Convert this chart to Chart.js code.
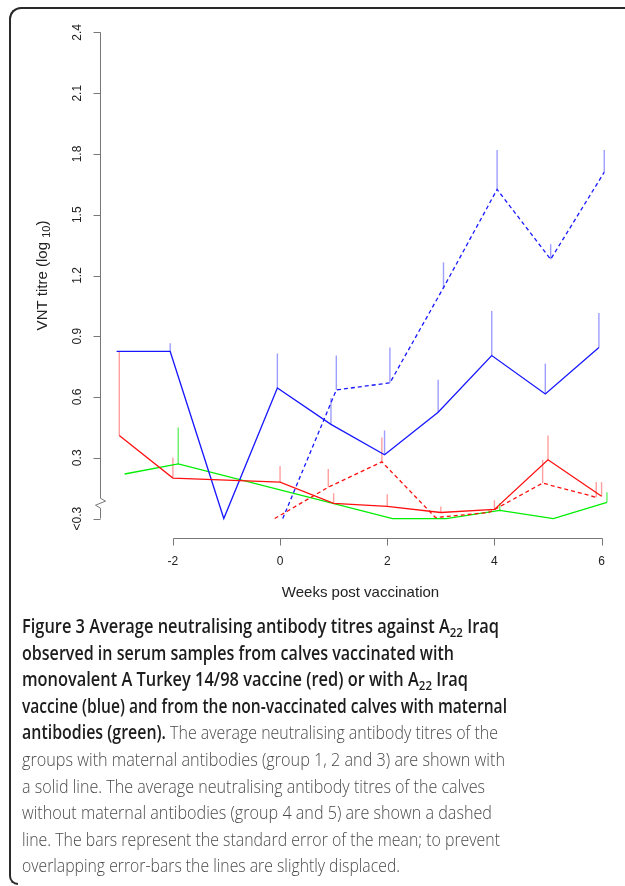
<!DOCTYPE html>
<html>
<head>
<meta charset="utf-8">
<script src="https://cdn.jsdelivr.net/npm/chart.js@4.4.1/dist/chart.umd.min.js"></script>
<style>
html,body{margin:0;padding:0;background:#fff;width:625px;height:886px;overflow:hidden;}
#c{position:absolute;left:0;top:0;}
#frame{position:absolute;left:9px;top:7px;width:660px;height:866px;border-left:2px solid #2a2a2a;border-top:2px solid #2a2a2a;border-top-left-radius:12px;box-sizing:border-box;}
#curl{position:absolute;left:9px;top:868px;width:9px;height:17px;border-left:2px solid #2a2a2a;border-bottom:2px solid #2a2a2a;border-bottom-left-radius:9px;box-sizing:border-box;}
#caption{position:absolute;left:22px;top:613px;font-family:'Open Sans','Noto Sans',sans-serif;font-size:19px;line-height:26.6px;}
.line{white-space:nowrap;display:block;height:26.6px;}
.line > span.in{display:inline-block;transform-origin:0 50%;}
.b{font-weight:600;color:#1c1c1c;}
.r{font-weight:300;color:#4a4a4a;}
sub{font-size:70%;line-height:0;vertical-align:-0.3em;}
</style>
</head>
<body>
<canvas id="c" width="625" height="610"></canvas>
<div id="frame"></div>
<div id="curl"></div>
<div id="caption">
<div class="line"><span class="in"><span class="b">Figure 3 Average neutralising antibody titres against A<sub>22</sub> Iraq</span></span></div>
<div class="line"><span class="in"><span class="b">observed in serum samples from calves vaccinated with</span></span></div>
<div class="line"><span class="in"><span class="b">monovalent A Turkey 14/98 vaccine (red) or with A<sub>22</sub> Iraq</span></span></div>
<div class="line"><span class="in"><span class="b">vaccine (blue) and from the non-vaccinated calves with maternal</span></span></div>
<div class="line"><span class="in"><span class="b">antibodies (green).</span><span class="r"> The average neutralising antibody titres of the</span></span></div>
<div class="line"><span class="in"><span class="r">groups with maternal antibodies (group 1, 2 and 3) are shown with</span></span></div>
<div class="line"><span class="in"><span class="r">a solid line. The average neutralising antibody titres of the calves</span></span></div>
<div class="line"><span class="in"><span class="r">without maternal antibodies (group 4 and 5) are shown a dashed</span></span></div>
<div class="line"><span class="in"><span class="r">line. The bars represent the standard error of the mean; to prevent</span></span></div>
<div class="line"><span class="in"><span class="r">overlapping error-bars the lines are slightly displaced.</span></span></div>
</div>
<script>
// ---- data ----
const weeksMaternal   = [-3, -2, 0, 1, 2, 3, 4, 5, 6];          // red solid
const weeksBlueSolid  = [-3, -2, -1, 0, 1, 2, 3, 4, 5, 6];      // blue solid
const weeksNoMaternal = [0, 1, 2, 3, 4, 5, 6];                  // dashed groups
const weeksGreen      = [-3, -2, 2, 3, 4, 5, 6];                // green

const redSolid     = [0.41, 0.20, 0.18, 0.075, 0.06, 0.03, 0.045, 0.29, 0.11];
const redSolidSE   = [0.415, 0.10, 0.08, 0.05, 0.06, 0.03, 0.045, 0.12, 0.07];

const blueSolid    = [0.825, 0.825, 0, 0.645, 0.465, 0.315, 0.525, 0.805, 0.615, 0.845];
const blueSolidSE  = [0, 0.04, 0, 0.17, 0.13, 0.12, 0.16, 0.22, 0.15, 0.17];

const redDashed    = [0, 0.155, 0.28, 0.005, 0.03, 0.175, 0.105];
const redDashedSE  = [0, 0.09, 0.12, 0, 0.015, 0.115, 0.075];

const blueDashed   = [0, 0.635, 0.67, 1.14, 1.625, 1.28, 1.71];
const blueDashedSE = [0, 0.17, 0.175, 0.125, 0.195, 0.075, 0.11];

const greenSolid   = [0.22, 0.27, 0, 0, 0.04, 0, 0.08];
const greenSolidSE = [0, 0.18, 0, 0, 0.035, 0, 0.05];

const xTicks = [-2, 0, 2, 4, 6];
const yTicks = [0, 0.3, 0.6, 0.9, 1.2, 1.5, 1.8, 2.1, 2.4];
const yTickLabels = ['<0.3', '0.3', '0.6', '0.9', '1.2', '1.5', '1.8', '2.1', '2.4'];
const xTitle = 'Weeks post vaccination';
const yTitleMain = 'VNT titre (log ';
const yTitleSub = '10';
const yTitleEnd = ')';

// ---- styles / displacement ----
const series = [
  {weeks: weeksMaternal,   vals: redSolid,   se: redSolidSE,   shift: 0,     color: '#ff1010', bar: 'rgba(255,40,40,0.45)', dash: []},
  {weeks: weeksBlueSolid,  vals: blueSolid,  se: blueSolidSE,  shift: -0.05, color: '#1818ff', bar: 'rgba(40,40,255,0.45)', dash: []},
  {weeks: weeksNoMaternal, vals: redDashed,  se: redDashedSE,  shift: -0.1,  color: '#ff1010', bar: 'rgba(255,40,40,0.45)', dash: [4, 3]},
  {weeks: weeksNoMaternal, vals: blueDashed, se: blueDashedSE, shift: 0.05,  color: '#1818ff', bar: 'rgba(40,40,255,0.45)', dash: [4, 3]},
  {weeks: weeksGreen,      vals: greenSolid, se: greenSolidSE, shift: 0.1,   color: '#00ee00', bar: 'rgba(0,230,0,0.6)',   dash: []}
];

const datasets = series.map(s => ({
  data: s.weeks.map((w, i) => ({x: w + s.shift, y: s.vals[i]})),
  borderColor: s.color,
  borderWidth: 1.3,
  borderDash: s.dash,
  pointRadius: 0,
  tension: 0,
  fill: false
}));

const AXIS = '#777';
const TEXT = '#222';
const FONT = '"Liberation Sans", Arial, sans-serif';

const rPlugin = {
  id: 'rStyle',
  beforeDatasetsDraw(chart) {
    const c = chart.ctx, xs = chart.scales.x, ys = chart.scales.y;
    c.save();
    c.lineWidth = 1.4;
    series.forEach(s => {
      c.strokeStyle = s.bar;
      s.weeks.forEach((w, i) => {
        if (!s.se[i]) return;
        const px = xs.getPixelForValue(w + s.shift);
        c.beginPath();
        c.moveTo(px, ys.getPixelForValue(s.vals[i]));
        c.lineTo(px, ys.getPixelForValue(s.vals[i] + s.se[i]));
        c.stroke();
      });
    });
    c.restore();
  },
  afterDraw(chart) {
    const c = chart.ctx, xs = chart.scales.x, ys = chart.scales.y, a = chart.chartArea;
    const tl = 7;
    c.save();
    c.strokeStyle = AXIS;
    c.lineWidth = 1;
    // x axis
    const yb = Math.round(a.bottom) + 0.5;
    c.beginPath();
    c.moveTo(Math.round(xs.getPixelForValue(xTicks[0])) + 0.5, yb);
    c.lineTo(Math.round(xs.getPixelForValue(xTicks[xTicks.length - 1])) + 0.5, yb);
    xTicks.forEach(v => {
      const px = Math.round(xs.getPixelForValue(v)) + 0.5;
      c.moveTo(px, yb);
      c.lineTo(px, yb + tl);
    });
    c.stroke();
    c.fillStyle = TEXT;
    c.font = '12px ' + FONT;
    c.textAlign = 'center';
    c.textBaseline = 'middle';
    xTicks.forEach(v => {
      c.fillText(String(v), xs.getPixelForValue(v), a.bottom + 24);
    });
    // y axis with break
    const xl = Math.round(a.left) + 0.5;
    const top = ys.getPixelForValue(yTicks[yTicks.length - 1]);
    c.beginPath();
    c.moveTo(xl, top);
    c.lineTo(xl, ys.getPixelForValue(0.10));
    c.lineTo(xl + 5, ys.getPixelForValue(0.086));
    c.lineTo(xl - 5, ys.getPixelForValue(0.066));
    c.lineTo(xl, ys.getPixelForValue(0.051));
    c.lineTo(xl, ys.getPixelForValue(0));
    yTicks.forEach(v => {
      const py = Math.round(ys.getPixelForValue(v)) + 0.5;
      c.moveTo(xl, py);
      c.lineTo(xl - tl, py);
    });
    c.stroke();
    yTicks.forEach((v, i) => {
      c.save();
      c.translate(a.left - 22, ys.getPixelForValue(v));
      c.rotate(-Math.PI / 2);
      c.fillText(yTickLabels[i], 0, 0);
      c.restore();
    });
    // titles
    c.font = '15px ' + FONT;
    c.fillText(xTitle, (a.left + a.right) / 2 - 2, a.bottom + 55);
    c.save();
    c.translate(a.left - 57, (a.top + a.bottom) / 2);
    c.rotate(-Math.PI / 2);
    c.textAlign = 'left';
    const w1 = c.measureText(yTitleMain).width;
    const w3 = c.measureText(yTitleEnd).width;
    c.font = '11px ' + FONT;
    const w2 = c.measureText(yTitleSub).width;
    const x0 = -(w1 + w2 + w3) / 2;
    c.font = '15px ' + FONT;
    c.fillText(yTitleMain, x0, 0);
    c.font = '11px ' + FONT;
    c.fillText(yTitleSub, x0 + w1, 4);
    c.font = '15px ' + FONT;
    c.fillText(yTitleEnd, x0 + w1 + w2, 0);
    c.restore();
    c.restore();
  }
};

new Chart(document.getElementById('c'), {
  type: 'line',
  data: {datasets},
  options: {
    responsive: false,
    animation: false,
    devicePixelRatio: 1,
    layout: {padding: {left: 100, right: 0, top: 13, bottom: 72}},
    plugins: {legend: {display: false}, tooltip: {enabled: false}, title: {display: false}},
    scales: {
      x: {type: 'linear', min: -3.36, max: 6.437, display: false},
      y: {type: 'linear', min: -0.096, max: 2.496, display: false}
    }
  },
  plugins: [rPlugin]
});

// fit each caption line to the reference's line widths
(function fitCaption() {
  const targets = [477, 432, 446, 485, 476, 483, 463, 470, 478, 378];
  const spans = Array.from(document.querySelectorAll('#caption .in'));
  spans.forEach((s, i) => {
    const w = s.getBoundingClientRect().width;
    if (w > 0) s.style.transform = 'scaleX(' + (targets[i] / w).toFixed(4) + ')';
  });
})();
</script>
</body>
</html>
